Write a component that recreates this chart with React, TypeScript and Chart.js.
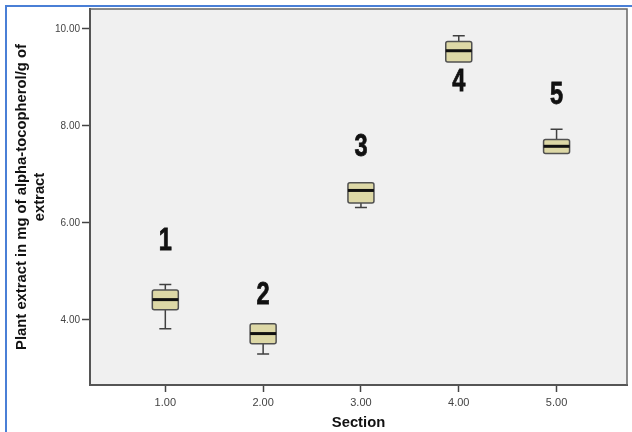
import React, { useEffect, useRef } from "react";
import { Chart, registerables } from "chart.js";

Chart.register(...registerables);

const sections = [1, 2, 3, 4, 5];
const groupLabels = ["1", "2", "3", "4", "5"];
const whiskerLow = [3.82, 3.3, 6.32, 9.32, 7.43];
const q1 = [4.21, 3.51, 6.41, 9.32, 7.43];
const median = [4.42, 3.72, 6.67, 9.55, 7.58];
const q3 = [4.62, 3.92, 6.83, 9.74, 7.72];
const whiskerHigh = [4.73, 3.92, 6.83, 9.86, 7.93];
const labelY = [5.61, 4.51, 7.56, 8.9, 8.62];
const xTicks = [1, 2, 3, 4, 5];
const yTicks = [4, 6, 8, 10];

const FONT = "'Liberation Sans', Arial, sans-serif";

const boxPlugin = {
  id: "boxPlugin",
  beforeDraw(chart: any) {
    const { ctx, chartArea: a } = chart;
    ctx.save();
    ctx.fillStyle = "#ffffff";
    ctx.fillRect(0, 0, chart.width, chart.height);
    ctx.fillStyle = "#f0f0f0";
    ctx.fillRect(a.left, a.top, a.right - a.left, a.bottom - a.top);
    ctx.strokeStyle = "#4a7fd6";
    ctx.lineWidth = 2;
    ctx.beginPath();
    ctx.moveTo(6, chart.height);
    ctx.lineTo(6, 6);
    ctx.lineTo(chart.width, 6);
    ctx.stroke();
    ctx.restore();
  },
  afterDatasetsDraw(chart: any) {
    const { ctx, chartArea: a } = chart;
    const xs = chart.scales.x;
    const ys = chart.scales.y;
    ctx.save();
    ctx.strokeStyle = "#666666";
    ctx.lineWidth = 1.5;
    ctx.beginPath();
    ctx.moveTo(a.left, a.top);
    ctx.lineTo(a.right, a.top);
    ctx.lineTo(a.right, a.bottom);
    ctx.stroke();
    const half = 13;
    const cap = 6;
    sections.forEach((s, i) => {
      const x = xs.getPixelForValue(s);
      const yLo = ys.getPixelForValue(whiskerLow[i]);
      const yQ1 = ys.getPixelForValue(q1[i]);
      const yMed = ys.getPixelForValue(median[i]);
      const yQ3 = ys.getPixelForValue(q3[i]);
      const yHi = ys.getPixelForValue(whiskerHigh[i]);
      ctx.strokeStyle = "#404040";
      ctx.lineWidth = 1.5;
      ctx.beginPath();
      if (yHi < yQ3 - 0.5) {
        ctx.moveTo(x, yQ3);
        ctx.lineTo(x, yHi);
        ctx.moveTo(x - cap, yHi);
        ctx.lineTo(x + cap, yHi);
      }
      if (yLo > yQ1 + 0.5) {
        ctx.moveTo(x, yQ1);
        ctx.lineTo(x, yLo);
        ctx.moveTo(x - cap, yLo);
        ctx.lineTo(x + cap, yLo);
      }
      ctx.stroke();
      ctx.fillStyle = "#ddd8a6";
      ctx.beginPath();
      (ctx as any).roundRect(x - half, yQ3, half * 2, yQ1 - yQ3, 2);
      ctx.fill();
      ctx.strokeStyle = "#505050";
      ctx.lineWidth = 1.5;
      ctx.stroke();
      ctx.strokeStyle = "#111111";
      ctx.lineWidth = 3;
      ctx.beginPath();
      ctx.moveTo(x - half, yMed);
      ctx.lineTo(x + half, yMed);
      ctx.stroke();
      const ly = ys.getPixelForValue(labelY[i]);
      ctx.save();
      ctx.translate(x, ly);
      ctx.scale(0.76, 1);
      ctx.fillStyle = "#111111";
      ctx.strokeStyle = "#111111";
      ctx.lineWidth = 0.8;
      ctx.font = "bold 31px " + FONT;
      ctx.textAlign = "center";
      ctx.textBaseline = "middle";
      ctx.fillText(groupLabels[i], 0, 0);
      ctx.strokeText(groupLabels[i], 0, 0);
      ctx.restore();
    });
    ctx.restore();
  },
};

export default function App() {
  const ref = useRef<HTMLCanvasElement | null>(null);
  useEffect(() => {
    if (!ref.current) return;
    const chart = new Chart(ref.current, {
      type: "scatter",
      data: {
        datasets: [
          {
            data: sections.map((s, i) => ({ x: s, y: median[i] })),
            pointRadius: 0,
            pointHoverRadius: 0,
          },
        ],
      },
      options: {
        animation: false,
        responsive: false,
        maintainAspectRatio: false,
        events: [],
        layout: { padding: { top: 9, right: 5, left: 0, bottom: 0 } },
        plugins: { legend: { display: false }, tooltip: { enabled: false } },
        scales: {
          x: {
            type: "linear",
            min: 0.23,
            max: 5.72,
            afterBuildTicks: (s: any) => {
              s.ticks = xTicks.map((v) => ({ value: v }));
            },
            afterFit: (s: any) => {
              s.height = 47;
            },
            grid: { drawOnChartArea: false, tickLength: 7, color: "#444444", tickWidth: 1.5 },
            border: { color: "#555555", width: 2 },
            ticks: {
              padding: 4,
              color: "#444444",
              font: { size: 11, family: FONT },
              callback: (v: any) => Number(v).toFixed(2),
              maxRotation: 0,
            },
            title: {
              display: true,
              text: "Section",
              color: "#111111",
              font: { size: 14.8, weight: "bold", family: FONT, lineHeight: 1.2 },
              padding: { top: 0, bottom: 0 },
            },
          },
          y: {
            type: "linear",
            min: 2.66,
            max: 10.41,
            afterBuildTicks: (s: any) => {
              s.ticks = yTicks.map((v) => ({ value: v }));
            },
            afterFit: (s: any) => {
              s.width = 90;
            },
            grid: { drawOnChartArea: false, tickLength: 8, color: "#444444", tickWidth: 1.5 },
            border: { color: "#555555", width: 2 },
            ticks: {
              padding: 2,
              color: "#444444",
              font: { size: 10, family: FONT },
              callback: (v: any) => Number(v).toFixed(2),
            },
            title: {
              display: true,
              text: ["Plant extract in mg of alpha-tocopherol/g of", "extract"],
              color: "#111111",
              font: { size: 14.8, weight: "bold", family: FONT, lineHeight: 1.22 },
              padding: { top: 13, bottom: 0 },
            },
          },
        },
      },
      plugins: [boxPlugin],
    } as any);
    return () => chart.destroy();
  }, []);
  return (
    <div style={{ position: "fixed", left: 0, top: 0, width: 632, height: 432 }}>
      <canvas ref={ref} width={632} height={432} style={{ display: "block" }} />
    </div>
  );
}
